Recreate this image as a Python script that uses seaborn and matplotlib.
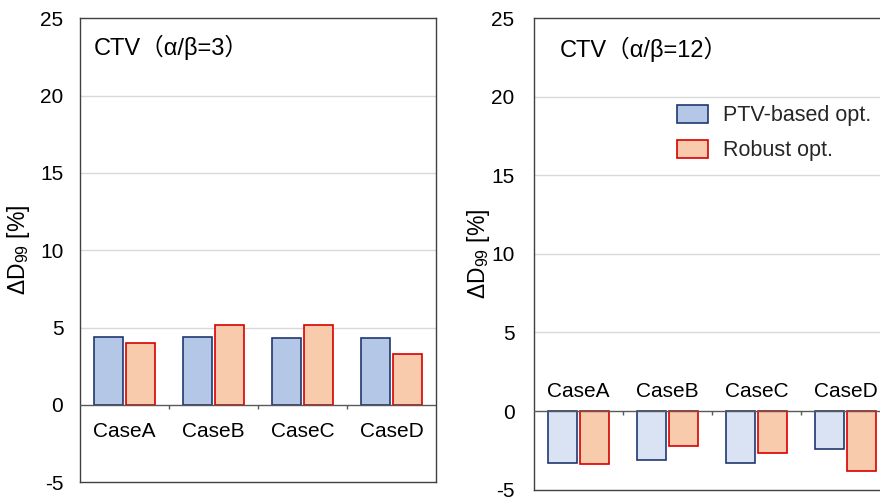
import matplotlib
matplotlib.use("Agg")
import matplotlib.pyplot as plt
from matplotlib.patches import Patch
import seaborn as sns
import pandas as pd

# ---- data -------------------------------------------------------------
cases = ["CaseA", "CaseB", "CaseC", "CaseD"]
plans = ["PTV-based opt.", "Robust opt."]
ptv_ab3 = [4.4, 4.4, 4.3, 4.3]
robust_ab3 = [4.0, 5.2, 5.2, 3.3]
ptv_ab12 = [-3.3, -3.1, -3.3, -2.4]
robust_ab12 = [-3.4, -2.2, -2.7, -3.8]
titles = ["CTV（α/β=3）", "CTV（α/β=12）"]
yticks = [-5, 0, 5, 10, 15, 20, 25]

# ---- styling ----------------------------------------------------------
sns.set_theme(style="white")
plt.rcParams["font.family"] = ["Liberation Sans", "Noto Sans CJK JP", "DejaVu Sans"]
plt.rcParams["mathtext.fontset"] = "custom"
plt.rcParams["mathtext.rm"] = "Liberation Sans"
plt.rcParams["mathtext.it"] = "Liberation Sans:italic"

BLUE = "#b4c7e7"
BLUE_LIGHT = "#dae3f3"
NAVY = "#1f3870"
SALMON = "#f8cbad"
RED = "#d90000"
FRAME = "#404040"
GRID = "#d9d9d9"


def frame_of(ptv, robust):
    return pd.DataFrame({
        "case": cases * 2,
        "plan": [plans[0]] * len(cases) + [plans[1]] * len(cases),
        "value": list(ptv) + list(robust),
    })


fig = plt.figure(figsize=(8.8, 5), dpi=100)
ax1 = fig.add_axes([80 / 880, 1 - 482.3 / 500, 356 / 880, 464 / 500])
ax2 = fig.add_axes([534 / 880, 1 - 489.6 / 500, 356 / 880, 471.6 / 500])

panels = [
    (ax1, frame_of(ptv_ab3, robust_ab3), BLUE, titles[0], -19, 0.040, 0.921, -0.135, 12),
    (ax2, frame_of(ptv_ab12, robust_ab12), BLUE_LIGHT, titles[1], 14, 0.071, 0.917, -0.118, 14),
]

for ax, df, blue, title, lab_off, tx, ty, ylab_x, ypad in panels:
    sns.barplot(data=df, x="case", y="value", hue="plan", order=cases,
                hue_order=plans, palette=[blue, SALMON], saturation=1,
                width=0.72, gap=0.08, legend=False, ax=ax, zorder=3)
    for cont, ec in zip(ax.containers, [NAVY, RED]):
        for bar in cont:
            bar.set_edgecolor(ec)
            bar.set_linewidth(1.2)

    ax.set_ylim(-5, 25)
    ax.set_xlim(-0.5, len(cases) - 0.5)
    ax.set_yticks(yticks)
    ax.set_yticklabels([str(v) for v in yticks])
    ax.tick_params(axis="y", length=0, pad=ypad, labelsize=15, colors="black")
    ax.set_xticks([])
    ax.set_xlabel("")

    # horizontal gridlines
    for v in yticks[2:-1]:
        ax.axhline(v, color=GRID, lw=1.0, zorder=1)

    # zero baseline with small separators between categories
    ax.axhline(0, color="#595959", lw=1.0, zorder=4)
    ax.vlines([i + 0.5 for i in range(len(cases) - 1)], -0.26, 0,
              color="#595959", lw=1.0, zorder=4)

    # category names along the baseline
    for i, c in enumerate(cases):
        ax.annotate(c, xy=(i, 0), xytext=(0, lab_off), textcoords="offset points",
                    ha="center", va="center", fontsize=15, color="black")

    for s in ax.spines.values():
        s.set_color(FRAME)
        s.set_linewidth(1.0)
        s.set_visible(True)

    ax.text(tx, ty, title, transform=ax.transAxes, ha="left", va="baseline",
            fontsize=17, color="black")

    ax.set_ylabel("Δ$\\mathrm{D}_{\\mathrm{99}}$ [%]", fontsize=16.5, color="black")
    ax.yaxis.set_label_coords(ylab_x, 0.5)

handles = [Patch(facecolor=BLUE, edgecolor=NAVY, linewidth=1.2),
           Patch(facecolor=SALMON, edgecolor=RED, linewidth=1.2)]
ax2.legend(handles, plans, loc="upper left", bbox_to_anchor=(676.7 / 880, 1 - 105 / 500),
           bbox_transform=fig.transFigure, frameon=False, fontsize=15.5,
           handlelength=1.45, handleheight=0.9, handletextpad=0.7,
           labelspacing=0.62, borderpad=0, borderaxespad=0)

fig.savefig("out.png", dpi=100)
